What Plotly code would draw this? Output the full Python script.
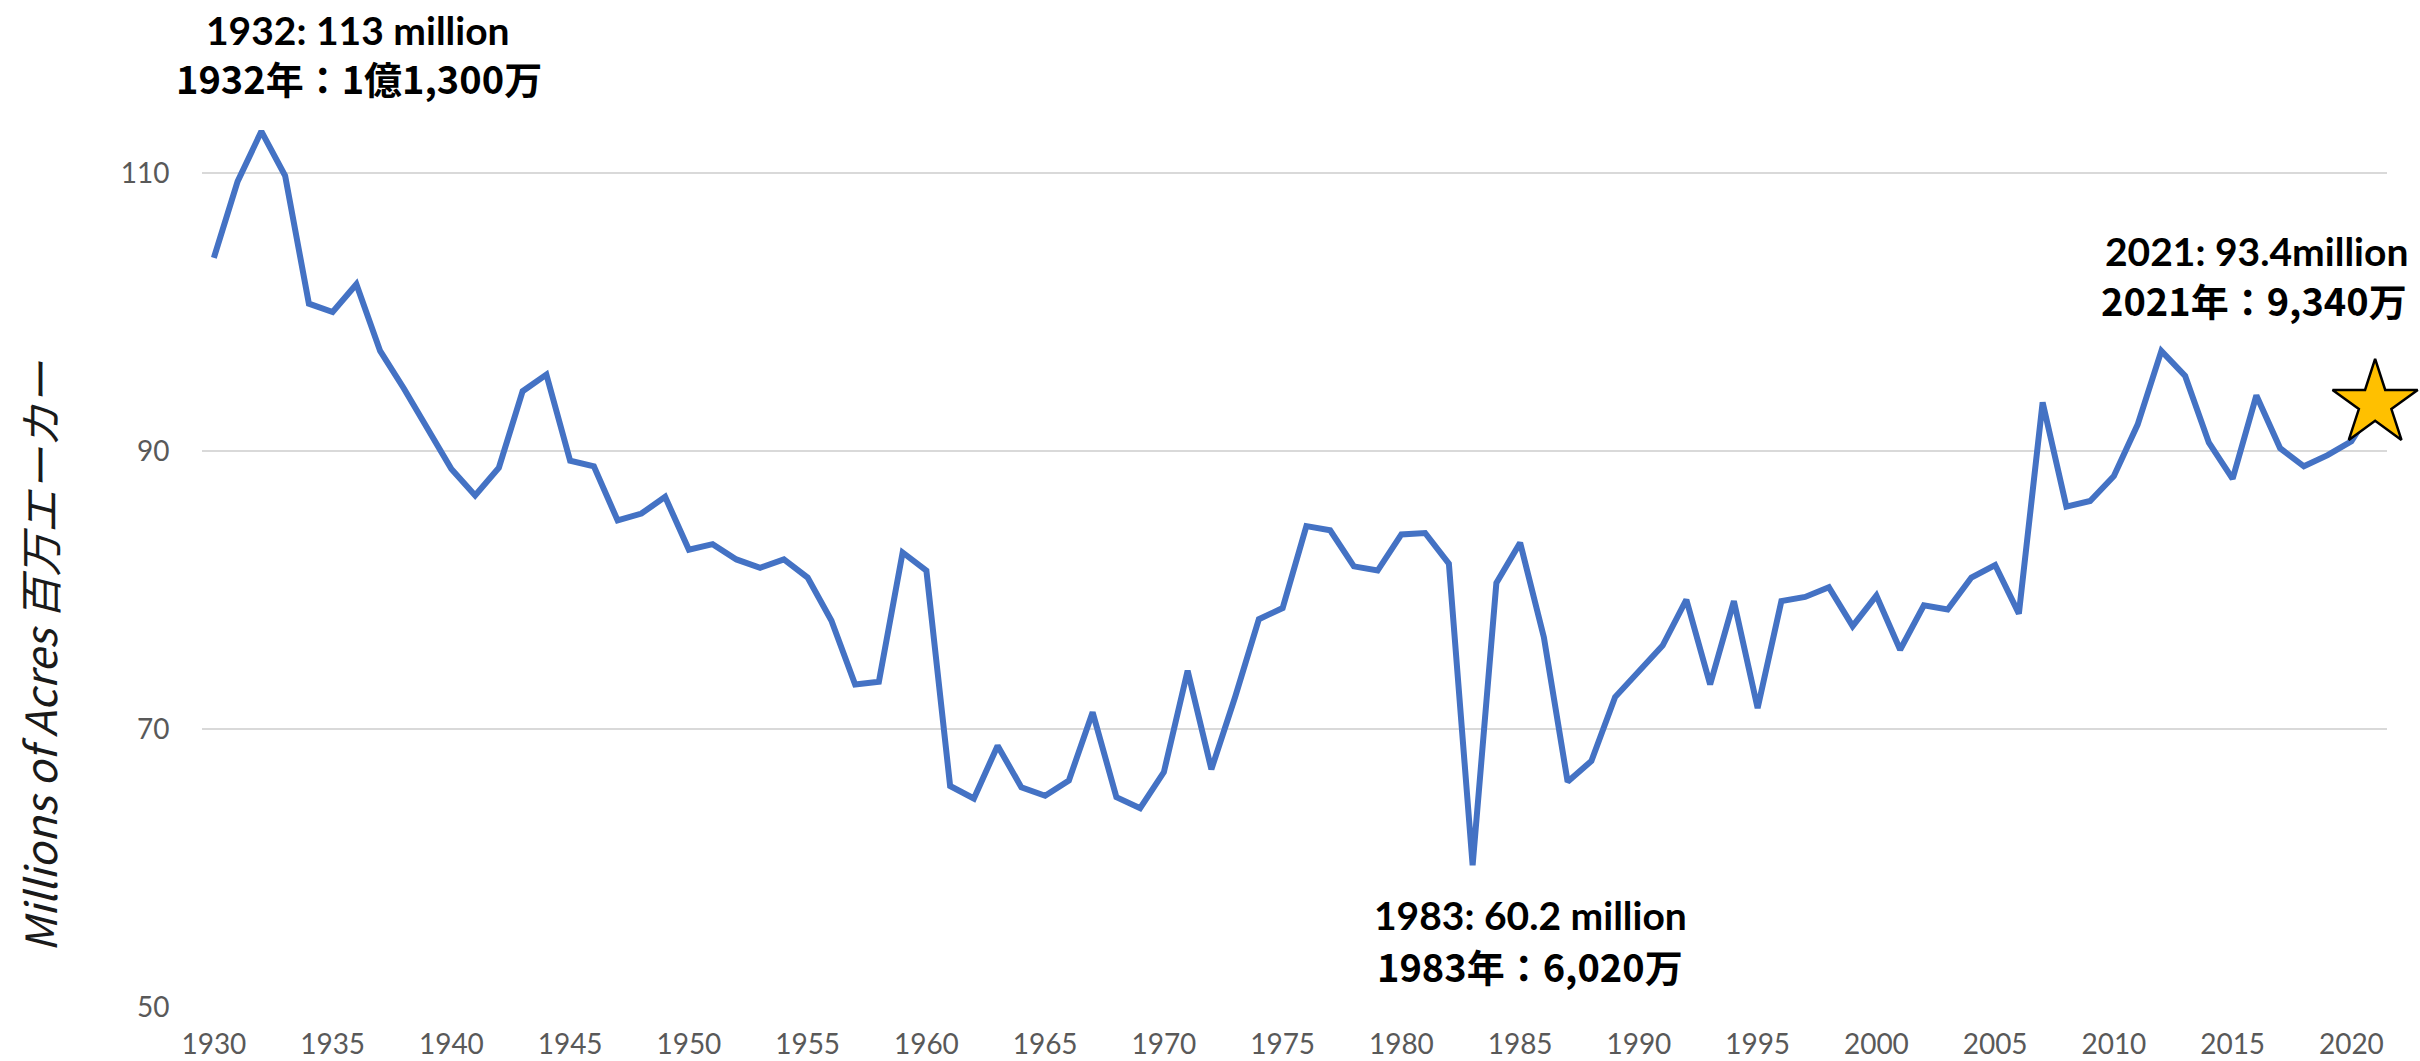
import plotly.graph_objects as go

years = list(range(1930, 2022))
acres = [
    103.9, 109.4, 113.0, 109.8, 100.6, 100.0, 102.0, 97.2, 94.5, 91.6,
    88.7, 86.8, 88.8, 94.3, 95.5, 89.3, 88.9, 85.0, 85.5, 86.7,
    82.9, 83.3, 82.2, 81.6, 82.2, 80.9, 77.8, 73.2, 73.4, 82.7,
    81.4, 65.9, 65.0, 68.8, 65.8, 65.2, 66.3, 71.2, 65.1, 64.3,
    66.9, 74.2, 67.1, 72.3, 77.9, 78.7, 84.6, 84.3, 81.7, 81.4,
    84.0, 84.1, 81.9, 60.2, 80.5, 83.4, 76.6, 66.2, 67.7, 72.3,
    74.2, 76.0, 79.3, 73.2, 79.2, 71.5, 79.2, 79.5, 80.2, 77.4,
    79.6, 75.7, 78.9, 78.6, 80.9, 81.8, 78.3, 93.5, 86.0, 86.4,
    88.2, 91.9, 97.2, 95.4, 90.6, 88.0, 94.0, 90.2, 88.9, 89.7,
    90.7, 93.4,
]
x_ticks = [1930, 1935, 1940, 1945, 1950, 1955, 1960, 1965, 1970, 1975,
           1980, 1985, 1990, 1995, 2000, 2005, 2010, 2015, 2020]
y_ticks = [50, 70, 90, 110]
y_title = "Millions of Acres 百万エーカー"
label_en = {1932: "1932: 113 million", 1983: "1983: 60.2 million", 2021: "2021: 93.4million"}
label_ja = {1932: "1932年：1億1,300万", 1983: "1983年：6,020万", 2021: "2021年：9,340万"}

LINE = "#4472C4"
W, H = 2420, 1061
# plot box in window pixels (body margin removed, so page == window)
PL, PR, PT, PB = 202, 2387, 34, 1007
ML, MR, MT, MB = PL, W - PR, PT, H - PB


def px(x):
    return (x - PL) / (PR - PL)


def py(y):
    return (PB - y) / (PB - PT)


fig = go.Figure()
fig.add_trace(go.Scatter(
    x=years, y=acres, mode="lines",
    line=dict(color=LINE, width=6),
    hoverinfo="x+y", showlegend=False,
))
fig.add_trace(go.Scatter(
    x=[years[-1]], y=[acres[-1]], mode="markers",
    marker=dict(symbol="star", size=64, color="#FFC000",
                line=dict(color="black", width=2.5)),
    showlegend=False, cliponaxis=False,
))

en_font = dict(family="Lato", size=39, color="black")
ja_font = dict(family="Noto Sans CJK JP", size=38, color="black")
positions = {  # window-pixel centres of (english line, japanese line)
    1932: ((358, 30), (359, 78)),
    1983: ((1530, 915), (1530, 965)),
    2021: ((2256, 251), (2254, 299)),
}
for yr, ((ex, ey), (jx, jy)) in positions.items():
    fig.add_annotation(x=px(ex), y=py(ey), xref="paper", yref="paper",
                       text="<b>" + label_en[yr] + "</b>", showarrow=False,
                       font=en_font, xanchor="center", yanchor="middle")
    fig.add_annotation(x=px(jx), y=py(jy), xref="paper", yref="paper",
                       text="<b>" + label_ja[yr] + "</b>", showarrow=False,
                       font=ja_font, xanchor="center", yanchor="middle")

fig.add_annotation(
    x=px(38), y=py(656), xref="paper", yref="paper", text="<i>" + y_title + "</i>",
    textangle=-90, showarrow=False, xanchor="center", yanchor="middle",
    font=dict(family="Noto Sans CJK JP", size=43, color="#1a1a1a"),
)

fig.update_layout(
    width=W, height=H,
    margin=dict(l=ML, r=MR, t=MT, b=MB, pad=0, autoexpand=False),
    paper_bgcolor="white", plot_bgcolor="white",
    xaxis=dict(
        range=[1929.5, 2021.5], tickmode="array", tickvals=x_ticks,
        ticktext=[str(v) for v in x_ticks], automargin=False,
        showgrid=False, zeroline=False, showline=False,
        ticks="outside", ticklen=12, tickcolor="rgba(0,0,0,0)",
        tickfont=dict(family="Lato", size=28, color="#595959"),
    ),
    yaxis=dict(
        range=[50, 120], tickmode="array", tickvals=y_ticks, automargin=False,
        showgrid=True, gridcolor="#D9D9D9", gridwidth=2,
        zeroline=False, showline=False,
        ticks="outside", ticklen=26, tickcolor="rgba(0,0,0,0)",
        tickfont=dict(family="Lato", size=28, color="#595959"),
    ),
)

fig.write_html(
    "out.html",
    config={"displayModeBar": False},
    post_script=(
        "document.documentElement.style.margin='0';"
        "document.body.style.margin='0';"
        "document.documentElement.style.overflow='hidden';"
        "document.body.style.overflow='hidden';"
    ),
)
